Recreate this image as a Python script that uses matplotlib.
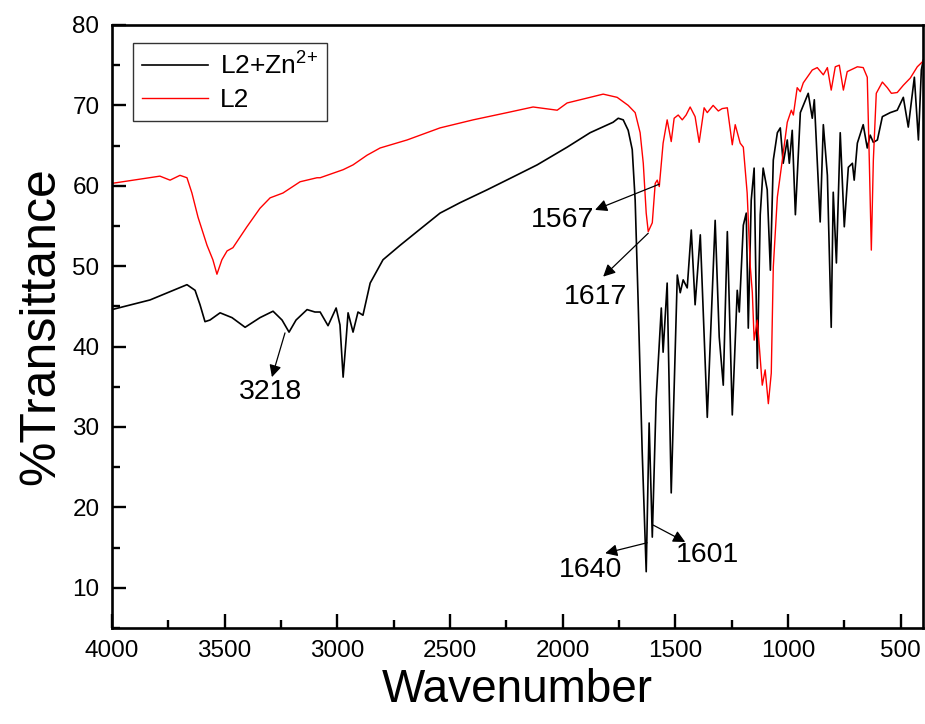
import matplotlib
matplotlib.use("Agg")
import matplotlib.pyplot as plt
from matplotlib.ticker import MultipleLocator

plt.rcParams['font.family'] = ['Liberation Sans', 'DejaVu Sans']
plt.rcParams['mathtext.default'] = 'regular'

# L2 + Zn2+ spectrum (black)
wn_zn = [4000, 3831, 3667, 3631, 3609, 3587, 3565, 3520, 3467, 3409, 3343, 3285, 3245, 3214,
         3183, 3134, 3099, 3076, 3041, 3005, 2988, 2974, 2961, 2952, 2930, 2908, 2886, 2854,
         2797, 2721, 2646, 2544, 2455, 2335, 2220, 2113, 1980, 1878, 1776, 1753, 1731, 1709,
         1691, 1678, 1665, 1647, 1629, 1616, 1602, 1585, 1562, 1554, 1536, 1518, 1491, 1478,
         1465, 1447, 1429, 1412, 1389, 1358, 1323, 1305, 1287, 1269, 1247, 1225, 1216, 1198,
         1185, 1176, 1163, 1150, 1136, 1123, 1110, 1092, 1078, 1065, 1047, 1034, 1021, 1003,
         994, 981, 967, 945, 910, 892, 883, 857, 843, 825, 808, 799, 785, 768, 750, 732, 714,
         706, 692, 666, 648, 635, 621, 603, 581, 546, 515, 488, 466, 439, 421, 408, 400]
t_zn = [44.6, 45.8, 47.7, 47.0, 45.2, 43.1, 43.3, 44.2, 43.6, 42.4, 43.6, 44.4, 43.3, 41.8,
        43.3, 44.6, 44.3, 44.3, 42.6, 44.8, 42.7, 36.2, 40.8, 44.2, 41.8, 44.3, 43.9, 47.9,
        50.8, 52.6, 54.3, 56.6, 57.9, 59.5, 61.1, 62.6, 64.8, 66.6, 67.9, 68.4, 68.2, 66.9,
        64.5, 58.2, 45.8, 27.1, 12.0, 30.5, 16.3, 33.4, 44.8, 39.3, 47.9, 21.8, 48.9, 46.7,
        48.3, 47.3, 54.5, 45.2, 53.9, 31.2, 55.7, 41.2, 35.2, 54.3, 31.5, 47.0, 44.3, 55.1,
        56.6, 42.3, 58.2, 62.2, 37.3, 56.4, 62.2, 59.5, 49.5, 63.2, 66.6, 67.2, 62.8, 65.7,
        62.8, 66.9, 56.4, 69.1, 71.5, 68.4, 70.7, 55.5, 67.6, 61.3, 42.4, 59.2, 50.4, 66.6,
        54.9, 62.3, 62.8, 60.7, 65.3, 67.6, 64.7, 66.3, 65.4, 65.7, 68.6, 69.1, 69.4, 71.0,
        67.3, 73.5, 65.7, 74.4, 75.6]

# L2 spectrum (red)
wn_l2 = [4000, 3787, 3742, 3698, 3667, 3645, 3618, 3578, 3552, 3534, 3512, 3489, 3463, 3401,
         3343, 3298, 3241, 3165, 3090, 3076, 2974, 2930, 2868, 2810, 2690, 2544, 2397, 2246,
         2131, 2024, 1980, 1878, 1820, 1758, 1709, 1678, 1656, 1642, 1629, 1620, 1602, 1589,
         1580, 1571, 1554, 1536, 1518, 1505, 1487, 1469, 1452, 1434, 1412, 1394, 1372, 1358,
         1332, 1309, 1292, 1269, 1247, 1234, 1212, 1198, 1181, 1167, 1158, 1150, 1136, 1114,
         1101, 1087, 1074, 1065, 1047, 1025, 1003, 985, 976, 959, 945, 932, 892, 870, 843, 825,
         808, 790, 772, 754, 737, 692, 666, 648, 639, 630, 621, 608, 581, 559, 541, 515, 488,
         457, 426, 404]
t_l2 = [60.3, 61.2, 60.7, 61.3, 61.0, 59.1, 56.1, 52.6, 50.8, 49.0, 50.8, 51.9, 52.3, 54.9,
        57.2, 58.5, 59.1, 60.5, 61.0, 61.0, 62.0, 62.6, 63.8, 64.7, 65.7, 67.2, 68.2, 69.1,
        69.8, 69.4, 70.3, 71.0, 71.4, 71.0, 70.0, 69.1, 66.6, 62.8, 56.6, 54.3, 55.4, 60.3,
        60.7, 59.9, 65.3, 68.2, 65.5, 68.4, 68.8, 68.2, 68.8, 69.8, 68.6, 65.4, 69.7, 69.1,
        70.0, 69.3, 69.6, 69.7, 65.1, 67.6, 65.3, 64.8, 59.1, 49.9, 46.7, 40.8, 43.3, 35.2,
        37.1, 32.9, 36.7, 49.9, 58.6, 63.2, 67.9, 69.4, 68.8, 72.2, 71.7, 72.8, 74.4, 74.7,
        73.8, 74.7, 71.9, 74.8, 75.0, 71.9, 74.2, 74.8, 74.7, 73.5, 63.2, 52.0, 63.2, 71.5,
        72.9, 72.2, 71.5, 71.6, 72.5, 73.4, 74.8, 75.4]

# peak annotations: label, point on curve (wn, T), arrow head (wn, T), text position (wn, T)
ann_labels = ["3218", "1567", "1617", "1640", "1601"]
ann_xy = [(3232, 41.7), (1571, 60.2), (1620, 54.1), (1625, 15.6), (1598, 17.8)]
ann_head = [(3290, 36.2), (1856, 57.0), (1820, 48.7), (1811, 14.3), (1456, 15.7)]
ann_text = [(3298, 34.4), (1998, 55.7), (1856, 46.2), (1878, 12.2), (1358, 14.1)]

fig = plt.figure(figsize=(9.25, 7.24), dpi=100)
ax = fig.add_axes([0.121, 0.1326, 0.877, 0.8329])

ax.plot(wn_zn, t_zn, color='black', lw=1.2, label='L2+Zn$^{2{+}}$')
ax.plot(wn_l2, t_l2, color='red', lw=1.0, label='L2')

ax.set_xlim(4000, 400)
ax.set_ylim(5, 80)
ax.xaxis.set_major_locator(MultipleLocator(500))
ax.xaxis.set_minor_locator(MultipleLocator(250))
ax.yaxis.set_major_locator(MultipleLocator(10))
ax.yaxis.set_minor_locator(MultipleLocator(5))
ax.tick_params(which='both', direction='in', width=1.7, labelsize=17.5)
ax.tick_params(which='major', length=10, pad=9)
ax.tick_params(which='minor', length=5.5)
for s in ax.spines.values():
    s.set_linewidth(1.9)

ax.set_xlabel('Wavenumber', fontsize=33, labelpad=4)
ax.set_ylabel('%Transittance', fontsize=36, labelpad=6)

for lab, xy, hd, tx in zip(ann_labels, ann_xy, ann_head, ann_text):
    ax.annotate('', xy=hd, xytext=xy,
                arrowprops=dict(arrowstyle='-|>', color='black', lw=0.9,
                                mutation_scale=18, shrinkA=0, shrinkB=0))
    ax.text(tx[0], tx[1], lab, fontsize=20.5, ha='center', va='center')

leg = ax.legend(loc='upper left', bbox_to_anchor=(0.026, 0.970), borderaxespad=0,
                fontsize=19, handlelength=2.5, fancybox=False, framealpha=1,
                edgecolor='#333333', borderpad=0.35, labelspacing=0.32, handletextpad=0.45)
leg.get_frame().set_linewidth(1.0)

fig.savefig('out.png', dpi=100)
